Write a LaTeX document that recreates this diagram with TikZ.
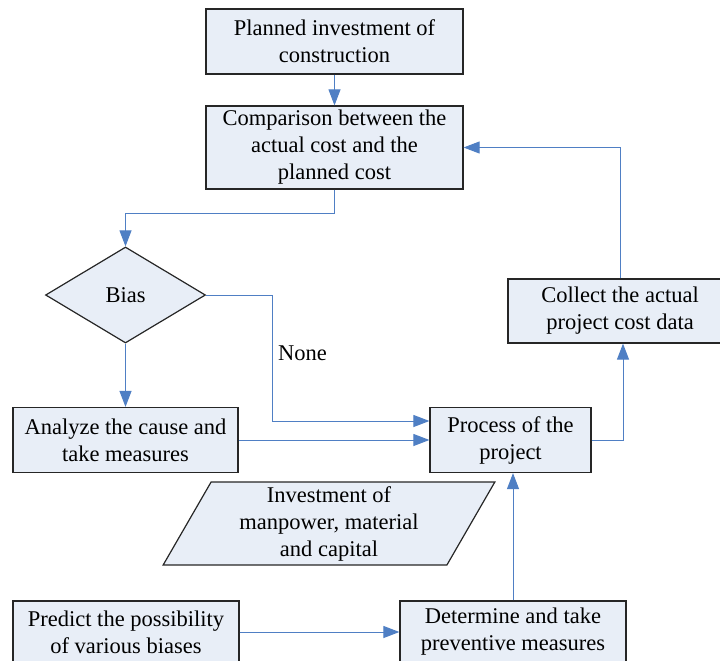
\documentclass[tikz,border=0pt]{standalone}
\usepackage{fontspec}
\setmainfont{Liberation Serif}
\usepackage{tikz}
\usetikzlibrary{arrows.meta,positioning,shapes.geometric}
\definecolor{boxfill}{HTML}{E8EEF7}
\definecolor{flowblue}{HTML}{4F7FC4}
\newcommand{\flowfont}{\fontsize{22.5}{27}\selectfont}

\begin{document}
\begin{tikzpicture}[x=1pt, y=-1pt,
    box/.style={draw=black!85, fill=boxfill, line width=1.2pt, align=center, inner sep=0pt, font=\flowfont},
    flow/.style={draw=flowblue, line width=1pt, -{Triangle[length=16pt, width=12pt]}}]
    \clip (0,0) rectangle (720,661);

    % main column
    \node[box, minimum width=257pt, minimum height=65pt] (plan) at (334.5,41.5) {Planned investment of\\construction};
    \node[box, minimum width=257pt, minimum height=83pt] (comp) at (334.5,147.5) {Comparison between the\\actual cost and the\\planned cost};
    \node[box, diamond, aspect=1.667, minimum width=160pt, minimum height=96pt] (bias) at (125.5,295) {Bias};
    \node[box, minimum width=225pt, minimum height=65pt] (anlz) at (125.5,440) {Analyze the cause and\\take measures};
    \node[box, minimum width=161pt, minimum height=65pt] (proc) at (510.5,440) {Process of the\\project};
    \node[box, minimum width=224pt, minimum height=64pt] (coll) at (620,311) {Collect the actual\\project cost data};
    \node[box, trapezium, trapezium left angle=64, trapezium right angle=116, trapezium stretches=true,
          minimum width=332pt, minimum height=83pt] (invest) at (329,523.5) {Investment of\\manpower, material\\and capital};
    \node[box, minimum width=226pt, minimum height=62pt] (pred) at (126,632) {Predict the possibility\\of various biases};
    \node[box, minimum width=226pt, minimum height=62pt] (detm) at (513,632) {Determine and take\\preventive measures};

    % connectors
    \draw[flow] (plan) -- (comp);
    \draw[flow] (comp.south) -- ++(0,24) -| (bias.north);
    \draw[flow] (bias.east) -- ++(66,0) |- ([yshift=19pt]proc.west);
    \node[font=\flowfont, anchor=west, inner sep=0pt] (none) at (278,353) {None};
    \draw[flow] (bias.south) -- (anlz.north);
    \draw[flow] (anlz.east) -- (anlz.east -| proc.west);
    \draw[flow] (proc.east) -| ([xshift=3pt]coll.south);
    \draw[flow] (coll.north) |- (comp.east);
    \draw[flow] (detm.north) -- (detm.north |- proc.south);
    \draw[flow] (pred.east) -- (pred.east -| detm.west);

\end{tikzpicture}
\end{document}
